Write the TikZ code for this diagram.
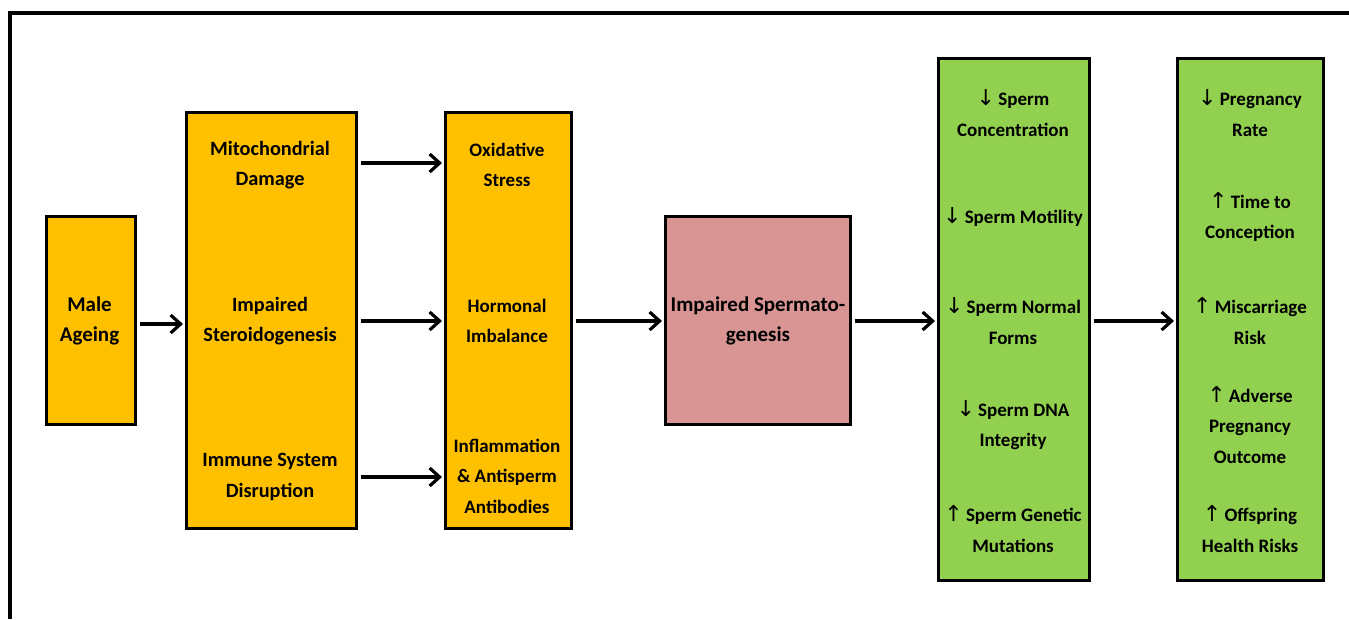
\documentclass[tikz,border=0pt]{standalone}
\usepackage{fontspec}
\setmainfont{Carlito}
\newfontfamily\arrowfont{DejaVu Sans}
\usetikzlibrary{arrows.meta}
\definecolor{amber}{HTML}{FFC000}
\definecolor{rose}{HTML}{D99594}
\definecolor{lime}{HTML}{92D050}
\newcommand{\dn}{{\arrowfont\mdseries\fontsize{22}{22}\selectfont ↓}\,}
\newcommand{\up}{{\arrowfont\mdseries\fontsize{22}{22}\selectfont ↑}\,}
\tikzset{
  box/.style={draw=black, line width=2.5pt, anchor=north west, inner sep=0pt},
  lbl/.style={align=center, font=\bfseries\fontsize{19}{30.5}\selectfont, inner sep=0pt},
  lblbig/.style={lbl, font=\bfseries\fontsize{21}{30.5}\selectfont},
  lblmid/.style={lbl, font=\bfseries\fontsize{20.3}{30.5}\selectfont},
  conn/.style={line width=3.8pt, -{Straight Barb[length=10pt,width=18pt,line width=3.2pt]}, shorten <=3pt, shorten >=2pt}
}
\begin{document}
\begin{tikzpicture}[x=1pt,y=-1pt]
\useasboundingbox (0,0) rectangle (1349,619);
% frame
\draw[line width=4pt] (9.5,619) -- (9.5,12.5) -- (1349,12.5);
% boxes
\node[box, fill=amber, minimum width=89pt, minimum height=208pt] (ma) at (45,215) {};
\node[box, fill=amber, minimum width=170pt, minimum height=416pt] (c2) at (185,111) {};
\node[box, fill=amber, minimum width=126pt, minimum height=416pt] (c3) at (444,111) {};
\node[box, fill=rose, minimum width=185pt, minimum height=208pt] (sp) at (664,215) {};
\node[box, fill=lime, minimum width=151pt, minimum height=522pt] (g1) at (937,57) {};
\node[box, fill=lime, minimum width=146pt, minimum height=522pt] (g2) at (1176,57) {};
% labels
\node[lblbig] (tma) at (89.5,321) {Male\\Ageing};
\node[lblmid] (t21) at (270,165) {Mitochondrial\\Damage};
\node[lblmid] (t22) at (270,321) {Impaired\\Steroidogenesis};
\node[lblmid] (t23) at (270,477) {Immune System\\Disruption};
\node[lbl] (t31) at (507,165) {Oxidative\\Stress};
\node[lbl] (t32) at (507,321) {Hormonal\\Imbalance};
\node[lbl] (t33) at (507,476) {Inflammation\\\&\ Antisperm\\Antibodies};
\node[lblbig] (tsp) at (758,321) {Impaired Spermato-\\genesis};
\node[lbl] (g11) at (1013,113) {\dn Sperm\\Concentration};
\node[lbl] (g12) at (1013,217) {\dn Sperm Motility};
\node[lbl] (g13) at (1013,321) {\dn Sperm Normal\\Forms};
\node[lbl] (g14) at (1013,425) {\dn Sperm DNA\\Integrity};
\node[lbl] (g15) at (1013,529) {\up Sperm Genetic\\Mutations};
\node[lbl] (g21) at (1250,113) {\dn Pregnancy\\Rate};
\node[lbl] (g22) at (1250,217) {\up Time to\\Conception};
\node[lbl] (g23) at (1250,321) {\up Miscarriage\\Risk};
\node[lbl] (g24) at (1250,425) {\up Adverse\\Pregnancy\\Outcome};
\node[lbl] (g25) at (1250,529) {\up Offspring\\Health Risks};
% connectors
\coordinate (y1) at (0,163);
\coordinate (y2) at (0,321);
\coordinate (y3) at (0,477);
\coordinate (ym) at (0,324);
\draw[conn] (ma.east |- ym) -- (c2.west |- ym);
\draw[conn] (c2.east |- y1) -- (c3.west |- y1);
\draw[conn] (c2.east |- y2) -- (c3.west |- y2);
\draw[conn] (c2.east |- y3) -- (c3.west |- y3);
\draw[conn] (c3.east |- y2) -- (sp.west |- y2);
\draw[conn] (sp.east |- y2) -- (g1.west |- y2);
\draw[conn] (g1.east |- y2) -- (g2.west |- y2);
\end{tikzpicture}
\end{document}
